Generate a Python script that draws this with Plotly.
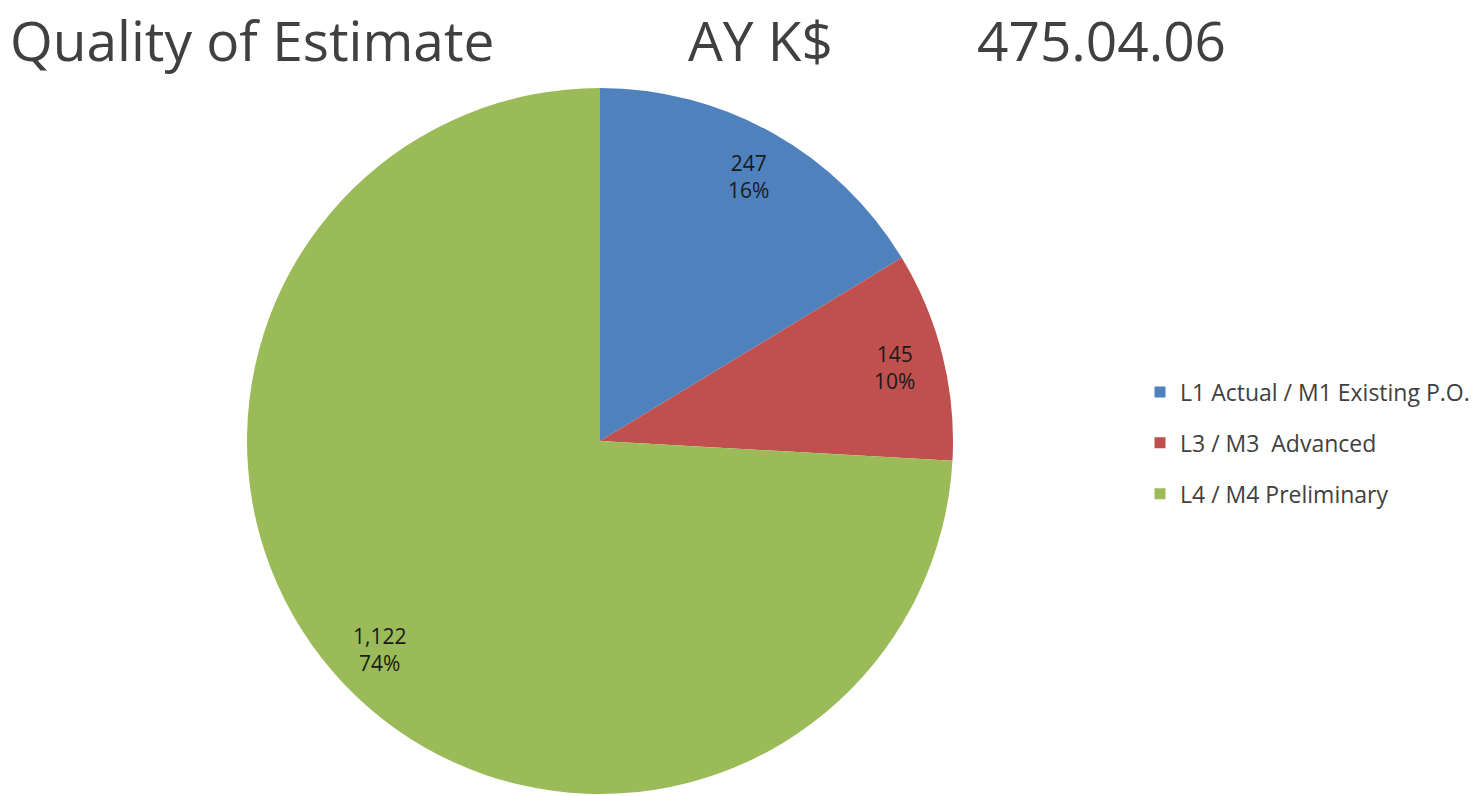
import math
import plotly.graph_objects as go

# Estimate-quality breakdown (AY K$)
categories = ["L1 Actual / M1 Existing P.O.", "L3 / M3  Advanced", "L4 / M4 Preliminary"]
values = [247, 145, 1122]
colors = ["#4F81BD", "#C0504D", "#9BBB59"]
title_parts = ["Quality of Estimate", "AY K$", "475.04.06"]

W, H = 1480, 796
# pie placement in pixels (left, top, diameter)
px_left, px_top, diam = 247, 88, 706
label_radius = 0.86  # data labels sit near the rim, as fraction of radius

dom_x = [px_left / W, (px_left + diam) / W]
dom_y = [(H - px_top - diam) / H, (H - px_top) / H]

fig = go.Figure()
fig.add_trace(
    go.Pie(
        labels=categories,
        values=values,
        sort=False,
        direction="clockwise",
        rotation=0,
        marker=dict(colors=colors, line=dict(width=0)),
        textinfo="none",
        hoverinfo="label+value+percent",
        showlegend=False,
        domain=dict(x=dom_x, y=dom_y),
    )
)

# data labels placed at each slice's mid-angle
total = sum(values)
cx = (dom_x[0] + dom_x[1]) / 2 * W
cy = (1 - (dom_y[0] + dom_y[1]) / 2) * H
r = diam / 2
cum = 0
for v in values:
    mid = (cum + v / 2) / total * 2 * math.pi
    cum += v
    lx = cx + label_radius * r * math.sin(mid)
    ly = cy - label_radius * r * math.cos(mid)
    fig.add_annotation(
        text=f"{v:,}<br>{round(100 * v / total)}%",
        x=lx / W, y=1 - ly / H, xref="paper", yref="paper",
        xanchor="center", yanchor="middle", showarrow=False, align="center",
        font=dict(family="Open Sans", size=21, color="#1a1a1a"),
    )

# legend entries, one group each so the rows can be spaced apart
for name, col in zip(categories, colors):
    fig.add_trace(
        go.Scatter(
            x=[None], y=[None], mode="markers", name=name, legendgroup=name,
            marker=dict(symbol="square", size=11, color=col),
            hoverinfo="skip",
        )
    )

title_font = dict(family="Open Sans", size=55, color="#404040")
for txt, xpos in zip(title_parts, [8, 686, 975]):
    fig.add_annotation(
        text=txt, x=xpos / W, y=1, xref="paper", yref="paper",
        xanchor="left", yanchor="top", showarrow=False, font=title_font,
    )

fig.update_layout(
    width=W, height=H,
    margin=dict(l=0, r=0, t=0, b=0),
    paper_bgcolor="white",
    plot_bgcolor="white",
    xaxis=dict(visible=False, domain=[0.99, 1]),
    yaxis=dict(visible=False, domain=[0.99, 1]),
    showlegend=True,
    legend=dict(
        x=1140 / W, y=1 - 443 / H, xanchor="left", yanchor="middle",
        font=dict(family="Open Sans", size=23, color="#404040"),
        tracegroupgap=18, itemwidth=30,
        bgcolor="rgba(0,0,0,0)",
    ),
)

fig.write_html("out.html")
